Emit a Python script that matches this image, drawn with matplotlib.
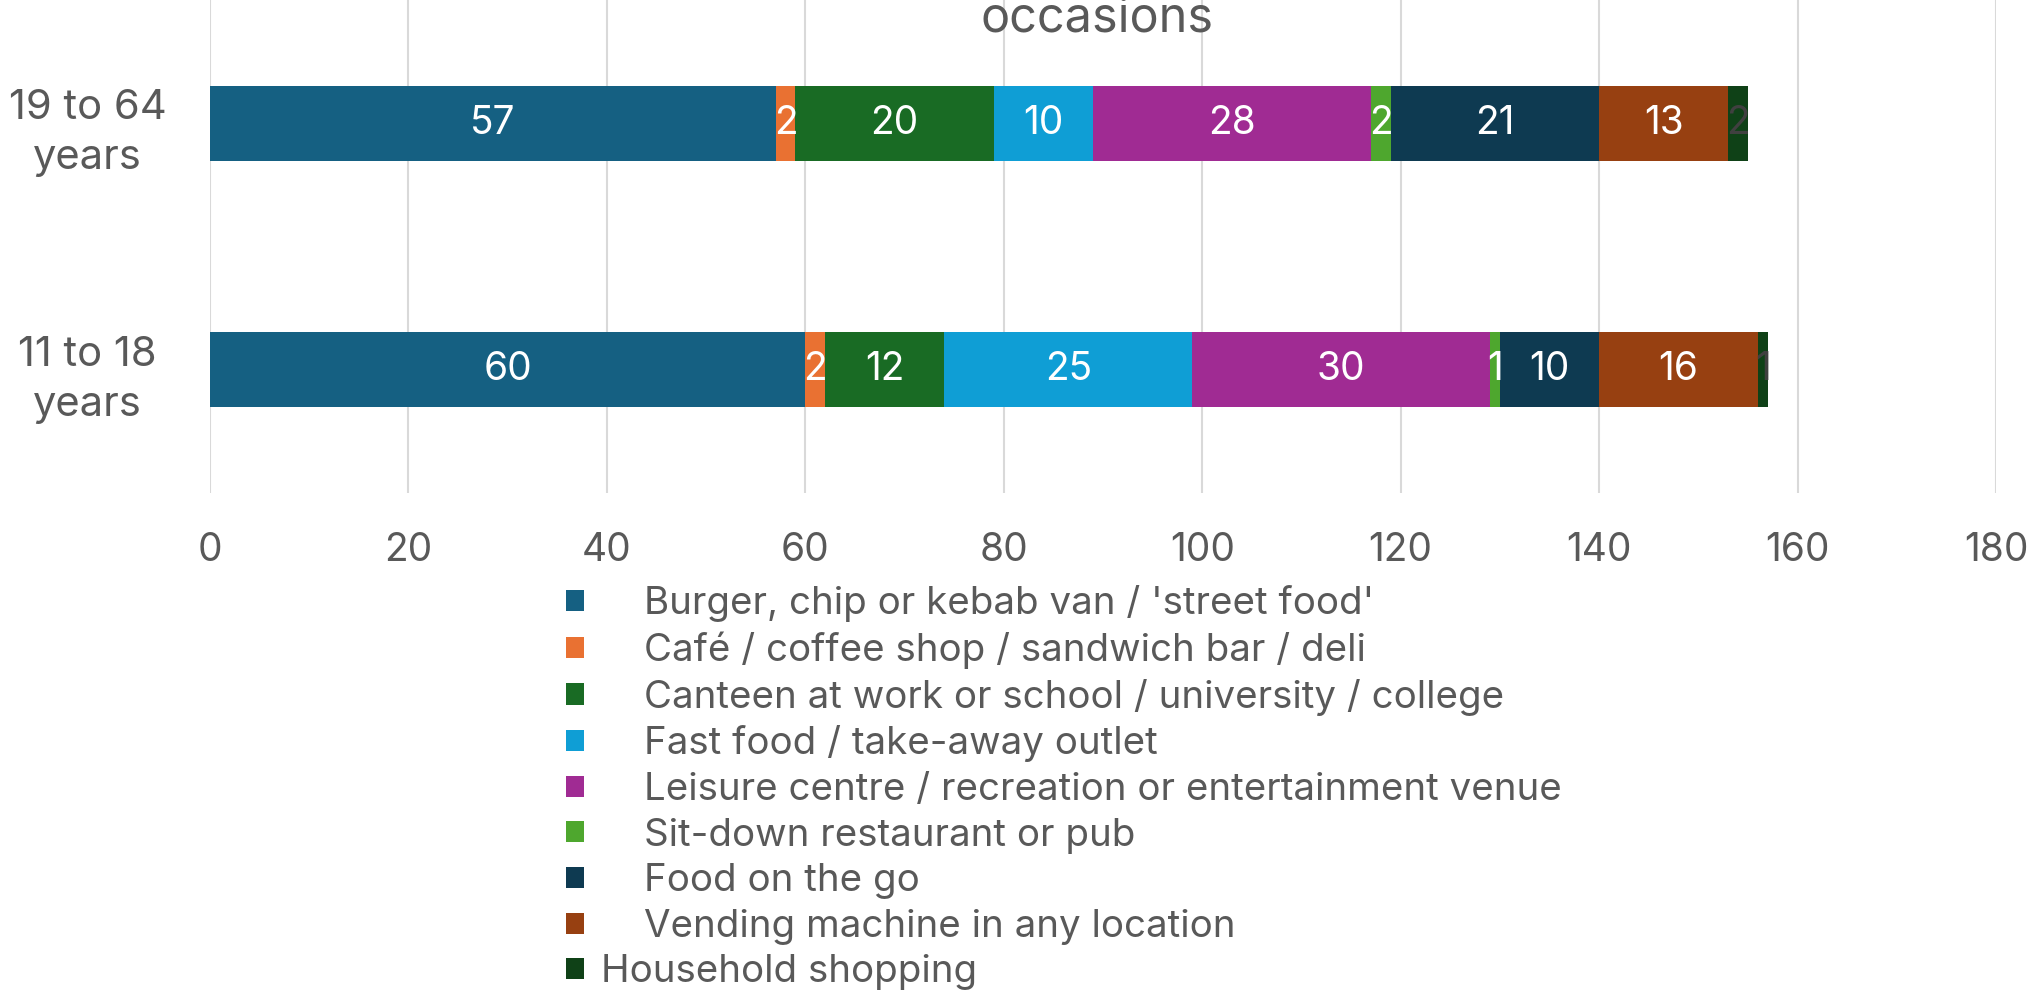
import matplotlib
matplotlib.use("Agg")
import matplotlib.pyplot as plt
from matplotlib.patches import Patch

plt.rcParams['font.family'] = ['Inter', 'DejaVu Sans']

# Data
age_groups = ['11 to 18\nyears', '19 to 64\nyears']
categories = [
    "Burger, chip or kebab van / 'street food'",
    "Café / coffee shop / sandwich bar / deli",
    "Canteen at work or school / university / college",
    "Fast food / take-away outlet",
    "Leisure centre / recreation or entertainment venue",
    "Sit-down restaurant or pub",
    "Food on the go",
    "Vending machine in any location",
    "Household shopping",
]
values_11_18 = [60, 2, 12, 25, 30, 1, 10, 16, 1]
values_19_64 = [57, 2, 20, 10, 28, 2, 21, 13, 2]
colors = ['#156082', '#E97132', '#196B24', '#0F9ED5', '#A02B93',
          '#4EA72E', '#0E3A51', '#974011', '#0F4117']
label_colors = ['white'] * 8 + ['#404040']
x_ticks = [0, 20, 40, 60, 80, 100, 120, 140, 160, 180]

GREY = '#595959'

fig = plt.figure(figsize=(20.36, 9.9), dpi=100)
ax = fig.add_axes([210 / 2036, 1 - 493 / 990, 1786 / 2036, 493 / 990])

series = list(zip(values_11_18, values_19_64))
left = [0, 0]
for i, cat in enumerate(categories):
    vals = list(series[i])
    bars = ax.barh([0, 1], vals, left=left, height=0.305, color=colors[i],
                   label=cat, zorder=3)
    for b, v in zip(bars, vals):
        ax.text(b.get_x() + b.get_width() / 2, b.get_y() + b.get_height() / 2,
                str(v), ha='center', va='center', fontsize=28,
                color=label_colors[i], zorder=4)
    left = [l + v for l, v in zip(left, vals)]

ax.set_xlim(0, 180)
ax.set_ylim(-0.5, 1.5)
ax.set_xticks(x_ticks)
ax.set_yticks([0, 1])
ax.set_yticklabels(age_groups, fontsize=30, color=GREY, ha='center',
                   multialignment='center', linespacing=1.4)
ax.tick_params(axis='y', length=0, pad=88)
ax.tick_params(axis='x', length=0, pad=28, labelsize=28, labelcolor=GREY)
for s in ax.spines.values():
    s.set_visible(False)
ax.grid(axis='x', color='#D9D9D9', linewidth=1.5, zorder=0)
ax.set_axisbelow(True)

# clipped title (only last line visible)
fig.text(1097 / 2036, 1 - 32 / 990, 'occasions', ha='center', va='baseline',
         fontsize=35, color=GREY)

# legend: first eight entries indented, last entry not
h = [Patch(facecolor=c) for c in colors]
leg1 = fig.legend(h[:8], categories[:8], loc='upper left',
                  bbox_to_anchor=(566 / 2036, 1 - 585 / 990), frameon=False,
                  fontsize=27.7, labelcolor=GREY, handlelength=0.47,
                  handleheight=0.47, handletextpad=1.56, labelspacing=0.25,
                  borderpad=0, borderaxespad=0)
leg2 = fig.legend(h[8:], categories[8:], loc='upper left',
                  bbox_to_anchor=(566 / 2036, 1 - 954 / 990), frameon=False,
                  fontsize=27.7, labelcolor=GREY, handlelength=0.47,
                  handleheight=0.47, handletextpad=0.44, labelspacing=0.25,
                  borderpad=0, borderaxespad=0)

fig.savefig('out.png', dpi=100)
